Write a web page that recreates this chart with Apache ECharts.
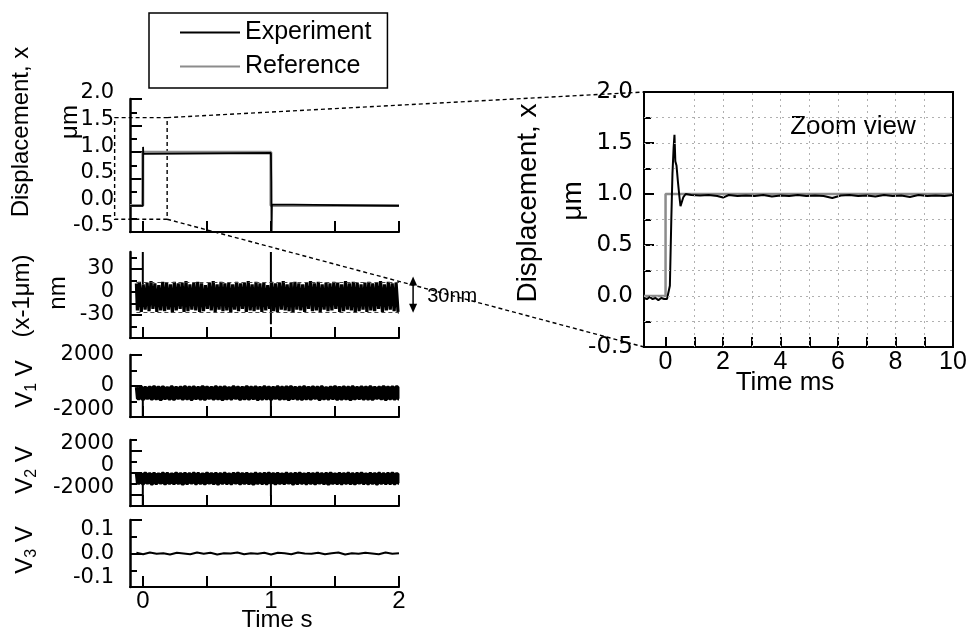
<!DOCTYPE html>
<html><head><meta charset="utf-8">
<script src="https://cdn.jsdelivr.net/npm/echarts@6/dist/echarts.min.js"></script>
<style>html,body{margin:0;padding:0;background:#fff}#c{width:974px;height:640px}</style>
</head><body><div id="c"></div>
<script>
// ---------------- DATA ----------------
// left stack: time in s
const timeTicks = [0, 0.5, 1, 1.5, 2];
const timeLabels = [0, 1, 2];

// displacement panel (um)
const dispTicksMajor = [-0.5, 0, 0.5, 1, 1.5, 2];
const dispTicksMinor = [-0.25, 0.25, 0.75, 1.25, 1.75];
const dispLabels = [-0.5, 0, 0.5, 1, 1.5, 2];
const refDispT = [-0.1, 0, 0, 1, 1, 2];
const refDispV = [0, 0, 1, 1, 0, 0];
const expDispT = [-0.1, 0, 0.002, 0.004, 0.006, 1.0, 1.003, 1.005, 1.008, 1.012, 2];
const expDispV = [-0.01, -0.01, 1.1, 0.97, 0.985, 0.985, 0.45, -0.55, 0.02, -0.01, -0.01];

// error panel (nm)
const errTicksMajor = [-30, 0, 30];
const errTicksMinor = [-45, -15, 15, 45];
const errLabels = [-30, 0, 30];
const errBandStart = -0.05, errBandEnd = 2.0;
const errV = [
 11,-24,13,-26,10,-23,12,-25,14,-22,11,-26,9,-24,13,-25,12,-23,10,-27,
 13,-24,11,-22,12,-26,14,-25,10,-23,12,-24,13,-26,11,-25,9,-22,12,-24,
 14,-26,10,-23,13,-25,11,-24,12,-27,10,-23,13,-25,11,-22,12,-26,14,-24,
 10,-25,13,-23,11,-26,12,-24,9,-22,13,-25,11,-26,12,-23,14,-24,10,-25,
 12,-27,13,-23,11,-24,10,-26,12,-22,14,-25,11,-24,13,-26,10,-23,12,-25,
 11,-24,13,-22,12,-26,10,-25,14,-23,11,-24,13,-27,12,-25,10,-23,12,-26,
 13,-24,11,-25,12,-22,14,-26,10,-24,13,-23,11,-25,12,-26
];
const errSpikeT = [0, 1];
const errSpikeTop = [52, 52];
const errSpikeLow = [10, -42];
const errBandLimits = [13, -26];

// V1 panel (V)
const v1TicksMajor = [-2000, 0, 2000];
const v1TicksMinor = [-1000, 1000];
const v1Labels = [-2000, 0, 2000];
const v1BandStart = -0.05, v1BandEnd = 2.0;
const v1V = [
 -70,-820,-60,-850,-110,-790,-80,-840,-50,-810,-90,-870,-70,-800,-120,-830,-60,-850,-100,-780,
 -80,-840,-60,-810,-90,-860,-70,-800,-110,-830,-50,-850,-80,-790,-100,-840,-60,-820,-90,-870,
 -70,-810,-120,-830,-60,-790,-80,-850,-100,-820,-50,-840,-90,-800,-70,-860,-110,-830,-60,-810,
 -80,-850,-100,-790,-60,-840,-90,-820,-70,-870,-50,-800,-110,-830,-80,-850,-60,-810,-100,-840,
 -70,-790,-90,-860,-60,-820,-120,-830,-80,-800,-50,-850,-100,-840,-70,-810,-90,-870,-60,-820,
 -110,-800,-70,-840,-80,-830,-60,-850,-100,-790,-90,-820,-50,-860,-80,-810,-70,-840,-60,-830
];
const v1SpikeT = [0, 1];
const v1SpikeTop = [-400, -400];
const v1SpikeLow = [-2000, -2000];

// V2 panel (V)
const v2TicksMajor = [-2000, 0, 2000];
const v2TicksMinor = [-3000, -1000, 1000, 3000];
const v2Labels = [-2000, 0, 2000];
const v2BandStart = -0.05, v2BandEnd = 2.0;
const v2V = [
 -40,-930,-80,-960,-30,-900,-70,-980,-50,-940,-90,-910,-40,-970,-60,-930,-100,-950,-30,-920,
 -70,-990,-50,-940,-80,-910,-40,-960,-60,-930,-90,-970,-30,-900,-70,-950,-50,-980,-80,-920,
 -40,-940,-100,-960,-60,-910,-30,-970,-70,-930,-50,-950,-90,-990,-40,-920,-80,-940,-60,-960,
 -30,-910,-70,-970,-50,-930,-100,-950,-40,-900,-80,-980,-60,-940,-30,-920,-90,-960,-50,-930,
 -70,-970,-40,-910,-80,-950,-60,-990,-30,-930,-100,-940,-50,-960,-70,-920,-40,-950,-80,-970,
 -60,-910,-30,-940,-90,-960,-50,-930,-70,-980,-40,-920,-80,-950,-60,-940,-30,-960,-70,-930
];
const v2SpikeT = [0, 1];
const v2SpikeTop = [-500, -500];
const v2SpikeLow = [-3000, -2100];

// V3 panel (V)
const v3TicksMajor = [-0.1, 0, 0.1];
const v3TicksMinor = [-0.05, 0.05];
const v3Labels = [-0.1, 0, 0.1];
const v3BandStart = -0.05, v3BandEnd = 2.0;
const v3V = [0.002,-0.002,0.003,-0.001,0.001,-0.003,0.002,0,-0.002,0.003,
 -0.001,0.002,-0.003,0.001,0,0.003,-0.002,0.001,-0.001,0.002,
 -0.003,0.002,0.001,-0.002,0.003,0,-0.001,0.002,-0.002,0.001,
 0.003,-0.003,0.001,-0.001,0.002,0,-0.002,0.003,-0.001,0.001];

// zoom panel: time in ms
const zoomTimeTicks = [0, 1, 2, 3, 4, 5, 6, 7, 8, 9, 10];
const zoomTimeLabels = [0, 2, 4, 6, 8, 10];
const zoomDispTicksMajor = [-0.5, 0, 0.5, 1, 1.5, 2];
const zoomDispTicksMinor = [-0.25, 0.25, 0.75, 1.25, 1.75];
const zoomDispLabels = [-0.5, 0, 0.5, 1, 1.5, 2];
const zoomGridTimes = [1, 2, 3, 4, 5, 6, 7, 8, 9];
const zoomGridDisp = [-0.25, 0, 0.25, 0.5, 0.75, 1.25, 1.5, 1.75];
const zoomRefT = [-0.75, 0, 0, 10];
const zoomRefV = [0, 0, 1, 1];
const zoomExpT = [-0.75,-0.65,-0.55,-0.45,-0.35,-0.25,-0.15,-0.05,0.05,0.1,0.15,0.2,0.24,0.28,0.31,0.34,0.38,0.43,0.48,0.52,0.56,0.62,0.7,0.9,1.2,1.5,1.8,2.0,2.2,2.5,2.8,3.1,3.4,3.7,4.0,4.3,4.6,4.9,5.2,5.5,5.8,6.1,6.4,6.7,7.0,7.3,7.6,7.9,8.2,8.5,8.8,9.1,9.4,9.7,10.0];
const zoomExpV = [-0.02,-0.03,-0.01,-0.03,-0.02,-0.04,-0.02,-0.03,-0.03,-0.02,0.1,0.75,1.2,1.45,1.58,1.32,1.28,1.12,0.98,0.88,0.87,0.97,1.0,0.99,0.985,0.99,0.98,0.965,0.99,0.98,0.985,0.98,0.99,0.975,0.985,0.98,0.99,0.98,0.985,0.98,0.96,0.985,0.99,0.98,0.985,0.975,0.99,0.98,0.985,0.97,0.99,0.98,0.985,0.98,0.99];

// ---------------- STYLE / LAYOUT ----------------
const FONT = 'Liberation Sans, Arial, sans-serif';
const TICKFONT = 'DejaVu Sans, Liberation Sans, sans-serif';
const BLACK = '#000', GRAY = '#8c8c8c';
const leftPanels = [
  {top: 99, height: 133, min: -0.5, max: 2, major: dispTicksMajor, minor: dispTicksMinor, labels: dispLabels, fmt: v => v.toFixed(1), shift: {}, allShift: 6},
  {top: 252, height: 86, min: -60, max: 52, major: errTicksMajor, minor: errTicksMinor, labels: errLabels, fmt: v => String(v), shift: {}, allShift: 0},
  {top: 355, height: 62, min: -2000, max: 2000, major: v1TicksMajor, minor: v1TicksMinor, labels: v1Labels, fmt: v => String(v), shift: {'-2000': 7}, allShift: 0},
  {top: 440, height: 66, min: -3000, max: 3000, major: v2TicksMajor, minor: v2TicksMinor, labels: v2Labels, fmt: v => String(v), shift: {}, allShift: 7},
  {top: 520, height: 67, min: -0.1, max: 0.1, major: v3TicksMajor, minor: v3TicksMinor, labels: v3Labels, fmt: v => v.toFixed(1), shift: {'0.1': -10, '-0.1': 9}, allShift: 0}
];
const LEFT = 130, RIGHT = 974 - 399;
const zoomGrid = {left: 644, top: 92, width: 309, height: 255};
const BAND_WIDTH = 3.2;

function shiftKey(s) { return 's' + (s < 0 ? 'm' + (-s) : s); }
function richShifts() {
  const r = {};
  for (let s = -12; s <= 12; s++) r[shiftKey(s)] = {padding: s >= 0 ? [0, 0, 2 * s, 0] : [-2 * s, 0, 0, 0]};
  return r;
}

const grids = [], xAxes = [], yAxes = [], series = [];
leftPanels.forEach((p, i) => {
  grids.push({left: LEFT, right: RIGHT, top: p.top, height: p.height, containLabel: false});
  const isBottom = i === leftPanels.length - 1;
  xAxes.push({type: 'value', gridIndex: i, position: 'bottom', min: -0.1, max: 2,
    axisLine: {show: true, onZero: false, lineStyle: {color: BLACK, width: 2}},
    axisTick: {show: true, inside: true, length: 11, customValues: timeTicks, lineStyle: {color: BLACK, width: 2}},
    axisLabel: {show: isBottom, customValues: timeLabels, fontSize: 24, color: BLACK, fontFamily: FONT, margin: 2, showMinLabel: true, showMaxLabel: true},
    splitLine: {show: false}});
  yAxes.push({type: 'value', gridIndex: i, position: 'left', min: p.min, max: p.max,
    axisLine: {show: true, onZero: false, lineStyle: {color: BLACK, width: 2.5}},
    axisTick: {show: true, inside: true, length: 12, customValues: p.major, lineStyle: {color: BLACK, width: 2}},
    axisLabel: {customValues: p.labels, fontSize: 21, color: BLACK, fontFamily: TICKFONT, margin: 16,
      showMinLabel: true, showMaxLabel: true, hideOverlap: false,
      formatter: v => {
        const s = (p.shift[String(v)] !== undefined) ? p.shift[String(v)] : p.allShift;
        return '{' + shiftKey(s) + '|' + p.fmt(v) + '}';
      }, rich: richShifts()},
    splitLine: {show: false}});
  yAxes.push({type: 'value', gridIndex: i, position: 'left', min: p.min, max: p.max,
    axisLine: {show: false, onZero: false},
    axisTick: {show: true, inside: true, length: 7, customValues: p.minor, lineStyle: {color: BLACK, width: 2}},
    axisLabel: {show: false}, splitLine: {show: false}});
});
// zoom grid (index 5)
grids.push({left: zoomGrid.left, top: zoomGrid.top, width: zoomGrid.width, height: zoomGrid.height, show: true, borderColor: BLACK, borderWidth: 2, backgroundColor: 'transparent'});
xAxes.push({type: 'value', gridIndex: 5, position: 'bottom', min: -0.75, max: 10,
  axisLine: {show: true, onZero: false, lineStyle: {color: BLACK, width: 2}},
  axisTick: {show: true, inside: true, length: 10, customValues: zoomTimeTicks, lineStyle: {color: BLACK, width: 2}},
  axisLabel: {customValues: zoomTimeLabels, fontSize: 25, color: BLACK, fontFamily: FONT, margin: 3, showMinLabel: true, showMaxLabel: true},
  splitLine: {show: false}});
yAxes.push({type: 'value', gridIndex: 5, position: 'left', min: -0.5, max: 2,
  axisLine: {show: true, onZero: false, lineStyle: {color: BLACK, width: 2}},
  axisTick: {show: true, inside: true, length: 10, customValues: zoomDispTicksMajor, lineStyle: {color: BLACK, width: 2}},
  axisLabel: {customValues: zoomDispLabels, fontSize: 23, color: BLACK, fontFamily: TICKFONT, margin: 11, showMinLabel: true, showMaxLabel: true, formatter: v => v.toFixed(1)},
  splitLine: {show: false}});
yAxes.push({type: 'value', gridIndex: 5, position: 'left', min: -0.5, max: 2, axisLine: {show: false, onZero: false},
  axisTick: {show: true, inside: true, length: 7, customValues: zoomDispTicksMinor, lineStyle: {color: BLACK, width: 2}},
  axisLabel: {show: false}, splitLine: {show: false}});

const zip = (a, b) => a.map((v, i) => [v, b[i]]);
function band(t0, t1, vals) { const dt = (t1 - t0) / (vals.length - 1); return vals.map((v, i) => [t0 + i * dt, v]); }
function spikes(ts, tops, lows) { const d = []; ts.forEach((t, i) => { d.push([t, tops[i]], [t, lows[i]], [t, '-']); }); return d; }
function line(name, gi, data, color, width, extra) {
  return Object.assign({name, type: 'line', xAxisIndex: gi, yAxisIndex: 2 * gi, data, showSymbol: false, symbol: 'none',
    lineStyle: {color, width}, itemStyle: {color}, animation: false, silent: true, connectNulls: false}, extra || {});
}
series.push(line('Reference', 0, zip(refDispT, refDispV), GRAY, 3));
series.push(line('Experiment', 0, zip(expDispT, expDispV), BLACK, 1.8));
series.push(line('err', 1, band(errBandStart, errBandEnd, errV), BLACK, BAND_WIDTH, {step: 'middle',
  markLine: {silent: true, symbol: 'none', label: {show: false}, animation: false,
    lineStyle: {type: [4, 3], color: '#444', width: 1.2},
    data: errBandLimits.map(v => [{coord: [errBandStart, v]}, {coord: [errBandEnd, v]}])}}));
series.push(line('errSpike', 1, spikes(errSpikeT, errSpikeTop, errSpikeLow), BLACK, 2));
series.push(line('V1', 2, band(v1BandStart, v1BandEnd, v1V), BLACK, BAND_WIDTH, {step: 'middle'}));
series.push(line('V1spike', 2, spikes(v1SpikeT, v1SpikeTop, v1SpikeLow), BLACK, 2));
series.push(line('V2', 3, band(v2BandStart, v2BandEnd, v2V), BLACK, BAND_WIDTH, {step: 'middle'}));
series.push(line('V2spike', 3, spikes(v2SpikeT, v2SpikeTop, v2SpikeLow), BLACK, 2));
series.push(line('V3', 4, band(v3BandStart, v3BandEnd, v3V), BLACK, 2));
series.push(line('zoomGrid', 5, [], '#aaa', 1, {
  markLine: {silent: true, symbol: 'none', label: {show: false}, animation: false,
    lineStyle: {type: [2, 4], color: '#b0b0b0', width: 1},
    data: zoomGridTimes.map(t => ({xAxis: t})).concat(zoomGridDisp.map(v => ({yAxis: v})))}}));
series.push(line('Reference', 5, zip(zoomRefT, zoomRefV), GRAY, 2.5));
series.push(line('Experiment', 5, zip(zoomExpT, zoomExpV), BLACK, 2));

const chart = echarts.init(document.getElementById('c'));
chart.setOption({
  backgroundColor: '#fff',
  animation: false,
  grid: grids, xAxis: xAxes, yAxis: yAxes, series,
  legend: {orient: 'vertical', left: 149, top: 13, padding: [7, 16, 9, 31], itemGap: 9,
    itemWidth: 60, itemHeight: 2, borderColor: BLACK, borderWidth: 1.5,
    textStyle: {fontSize: 25, color: BLACK, fontFamily: FONT}, selectedMode: false,
    data: [{name: 'Experiment', icon: 'rect', itemStyle: {color: BLACK}}, {name: 'Reference', icon: 'rect', itemStyle: {color: GRAY}}]}
});

// ---------------- annotations ----------------
const zoomBox = {t0: -0.22, t1: 0.19, v0: -0.26, v1: 1.65};
const arrow30 = {t: 2.11, top: 20, bottom: -27};
const text30 = {t: 2.22, v: -6.5};
const px = (gi, x, y) => chart.convertToPixel({xAxisIndex: gi, yAxisIndex: 2 * gi}, [x, y]);
const a = px(0, zoomBox.t0, zoomBox.v1), b = px(0, zoomBox.t1, zoomBox.v0);
const zTL = px(5, -0.75, 2), zBL = px(5, -0.75, -0.5);
const dash = {stroke: BLACK, lineWidth: 1.4, lineDash: [4, 3], fill: null};
const aTop = px(1, arrow30.t, arrow30.top), aBot = px(1, arrow30.t, arrow30.bottom);
const tPos = px(1, text30.t, text30.v);
function rtext(x, y, text, size, rot) {
  return {type: 'text', x, y, rotation: rot ? Math.PI / 2 : 0, silent: true,
    style: {text, font: size + 'px ' + FONT, fill: BLACK, align: 'center', verticalAlign: 'middle', textAlign: 'center', textVerticalAlign: 'middle'}};
}
function vlabel(x, y, sub) {
  return {type: 'text', x, y, rotation: Math.PI / 2, silent: true,
    style: {text: '{a|V}{b|' + sub + '}{a| V}', fill: BLACK, align: 'center', verticalAlign: 'middle', textAlign: 'center', textVerticalAlign: 'middle',
      rich: {a: {font: '24px ' + FONT, fill: BLACK}, b: {font: '16px ' + FONT, fill: BLACK, padding: [14, 0, 0, 0]}}}};
}
const els = [
  rtext(21, 132, 'Displacement, x', 24, true),
  rtext(70, 122, 'μm', 24, true),
  rtext(22, 296, '(x-1μm)', 24, true),
  rtext(58, 293, 'nm', 24, true),
  vlabel(25, 384, '1'),
  vlabel(25, 470, '2'),
  vlabel(25, 550, '3'),
  rtext(277, 620, 'Time s', 24, false),
  rtext(528, 203, 'Displacement, x', 28, true),
  rtext(573, 201, 'μm', 28, true),
  rtext(853, 127, 'Zoom view', 26, false),
  rtext(785, 383, 'Time ms', 26, false),
  {type: 'polyline', silent: true, shape: {points: [[a[0], a[1]], [b[0], a[1]], [b[0], b[1]], [a[0], b[1]], [a[0], a[1]]]}, style: dash},
  {type: 'line', silent: true, shape: {x1: b[0], y1: a[1], x2: zTL[0], y2: zTL[1]}, style: dash},
  {type: 'line', silent: true, shape: {x1: b[0], y1: b[1], x2: zBL[0], y2: zBL[1]}, style: dash},
  {type: 'line', silent: true, shape: {x1: aTop[0], y1: aTop[1] + 6, x2: aBot[0], y2: aBot[1] - 6}, style: {stroke: BLACK, lineWidth: 1.5}},
  {type: 'polygon', silent: true, shape: {points: [[aTop[0], aTop[1]], [aTop[0] - 4, aTop[1] + 9], [aTop[0] + 4, aTop[1] + 9]]}, style: {fill: BLACK}},
  {type: 'polygon', silent: true, shape: {points: [[aBot[0], aBot[1]], [aBot[0] - 4, aBot[1] - 9], [aBot[0] + 4, aBot[1] - 9]]}, style: {fill: BLACK}},
  {type: 'text', x: tPos[0], y: tPos[1], silent: true, z: 1,
    style: {text: '30nm', font: '20px ' + FONT, fill: BLACK, align: 'left', verticalAlign: 'middle', textAlign: 'left', textVerticalAlign: 'middle'}}
];
chart.setOption({graphic: {elements: els}});
</script></body></html>
